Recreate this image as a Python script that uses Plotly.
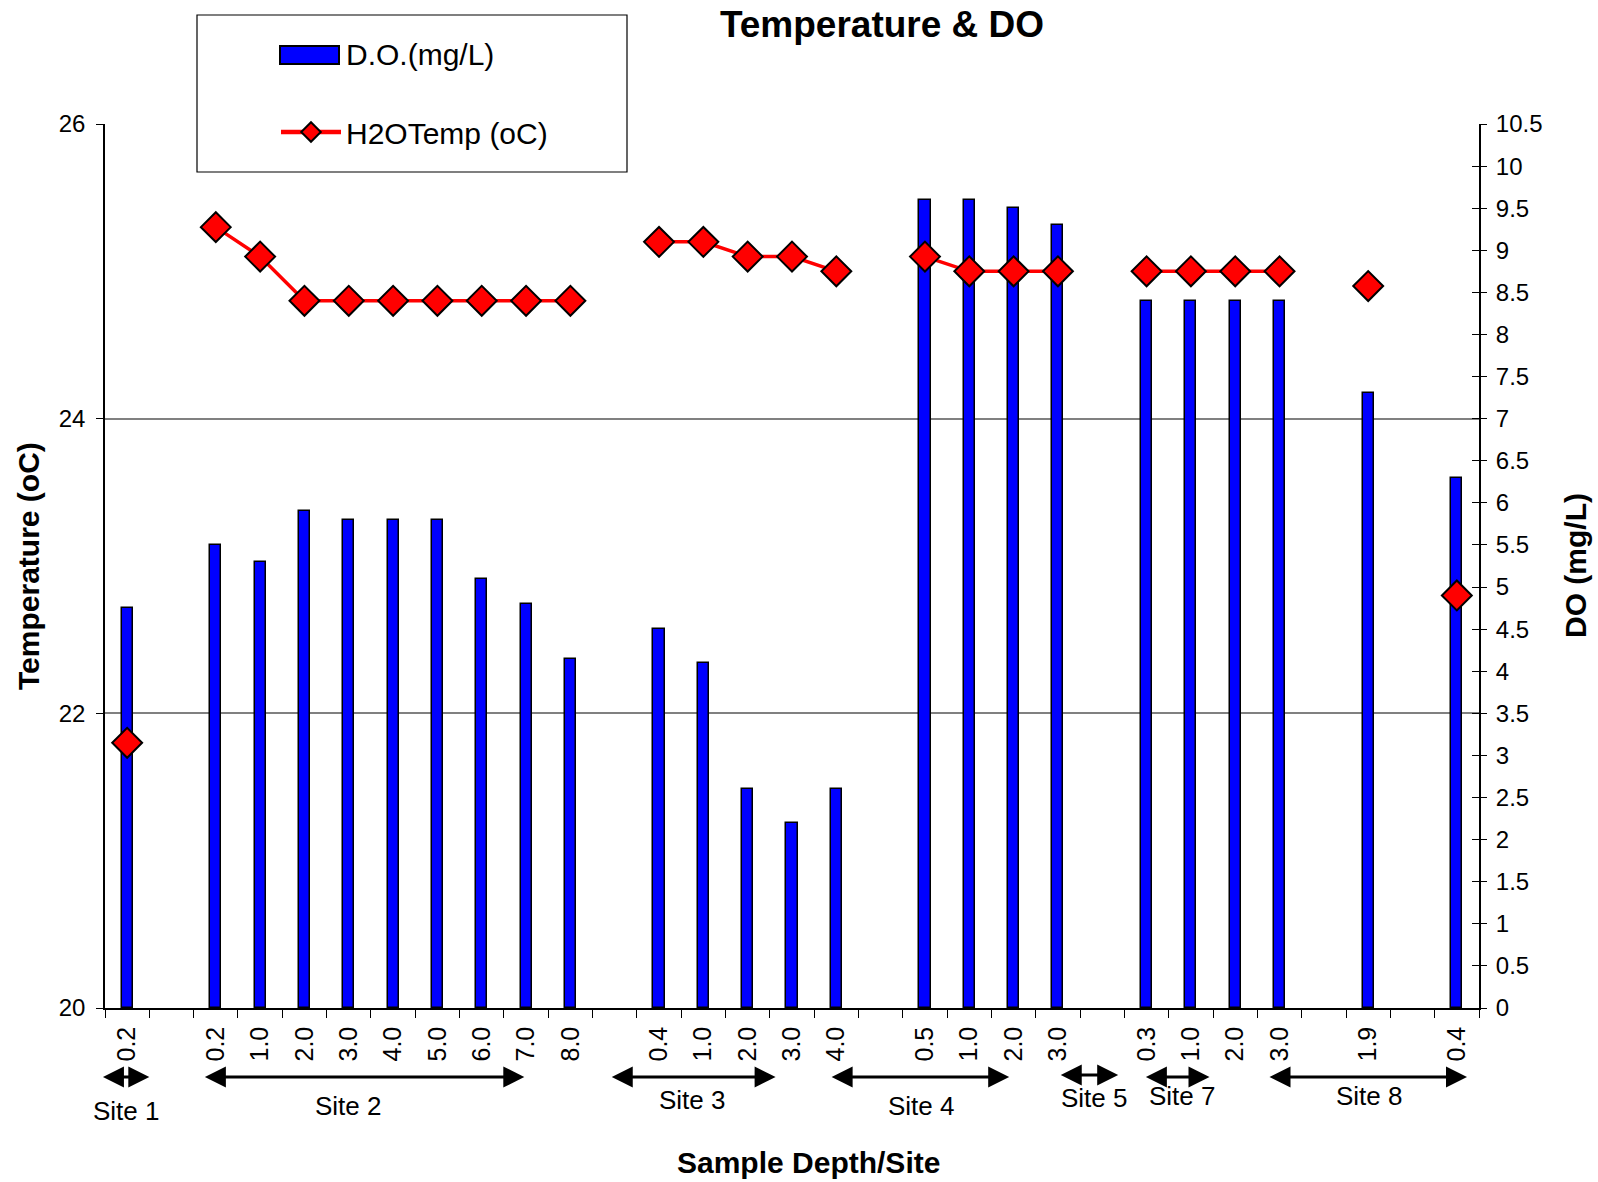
import plotly.graph_objects as go

# ---------------- data ----------------
depths = ["0.2", "", "0.2", "1.0", "2.0", "3.0", "4.0", "5.0", "6.0", "7.0", "8.0", "",
          "0.4", "1.0", "2.0", "3.0", "4.0", "", "0.5", "1.0", "2.0", "3.0", "",
          "0.3", "1.0", "2.0", "3.0", "", "1.9", "", "0.4"]
do_mgL = [4.75, None, 5.5, 5.3, 5.9, 5.8, 5.8, 5.8, 5.1, 4.8, 4.15, None,
          4.5, 4.1, 2.6, 2.2, 2.6, None, 9.6, 9.6, 9.5, 9.3, None,
          8.4, 8.4, 8.4, 8.4, None, 7.3, None, 6.3]
temp_c = [21.8, None, 25.3, 25.1, 24.8, 24.8, 24.8, 24.8, 24.8, 24.8, 24.8, None,
          25.2, 25.2, 25.1, 25.1, 25.0, None, 25.1, 25.0, 25.0, 25.0, None,
          25.0, 25.0, 25.0, 25.0, None, 24.9, None, 22.8]
positions = list(range(len(depths)))

temp_ticks = [20, 22, 24, 26]
do_tickvals = [i * 0.5 for i in range(22)]
do_ticktext = ["0", "0.5", "1", "1.5", "2", "2.5", "3", "3.5", "4", "4.5", "5", "5.5",
               "6", "6.5", "7", "7.5", "8", "8.5", "9", "9.5", "10", "10.5"]

# site groups: name, arrow start, arrow end (in category units)
site_names = ["Site 1", "Site 2", "Site 3", "Site 4", "Site 5", "Site 7", "Site 8"]
site_start = [-0.58, 1.72, 10.90, 15.86, 21.03, 22.95, 25.74]
site_end = [0.50, 8.96, 14.63, 19.90, 22.36, 24.42, 30.23]
site_label_x = [-0.02, 5.0, 12.75, 17.93, 21.83, 23.8, 28.03]

# ---------------- layout geometry ----------------
W, H = 1598, 1182
L, R, T, B = 105, 1479, 124, 1008
FONT = "Liberation Sans, Arial, sans-serif"


def py2paper(py):
    return (B - py) / (B - T)


def px2paper(px):
    return (px - L) / (R - L)


fig = go.Figure()

fig.add_trace(go.Bar(
    x=positions, y=do_mgL, name="D.O.(mg/L)", width=0.25,
    marker=dict(color="#0000FF", line=dict(color="black", width=1.5)),
    yaxis="y", showlegend=False,
))
fig.add_trace(go.Scatter(
    x=positions, y=temp_c, name="H2OTemp (oC)", mode="lines+markers",
    connectgaps=False,
    line=dict(color="#FF0000", width=3.5),
    marker=dict(symbol="diamond", size=23, color="#FF0000",
                line=dict(color="black", width=2)),
    yaxis="y2", showlegend=False,
))
# legend entries (symbol for D.O. drawn as a framed rectangle below)
fig.add_trace(go.Scatter(x=[None], y=[None], name="D.O.(mg/L)", mode="lines",
                         line=dict(color="rgba(0,0,0,0)", width=1),
                         yaxis="y2", legendgroup="a", hoverinfo="skip"))
fig.add_trace(go.Scatter(x=[None], y=[None], name="H2OTemp (oC)", mode="lines+markers",
                         line=dict(color="#FF0000", width=4.5),
                         marker=dict(symbol="diamond", size=15, color="#FF0000",
                                     line=dict(color="black", width=2)),
                         yaxis="y2", legendgroup="b", hoverinfo="skip"))
# helper trace so that the outer tick axis is drawn
fig.add_trace(go.Scatter(x=[None], y=[None], yaxis="y3", showlegend=False,
                         hoverinfo="skip"))

fig.update_layout(
    width=W, height=H,
    margin=dict(l=L, r=W - R, t=T, b=H - B),
    paper_bgcolor="white", plot_bgcolor="white",
    font=dict(family=FONT, size=24, color="black"),
    showlegend=True,
    bargap=0,
    title=dict(text="Temperature & DO", x=px2paper(882), xref="paper",
               xanchor="center", y=1 - 24 / H, yref="container", yanchor="middle",
               font=dict(family=FONT, size=37, color="black", weight="bold")),
    xaxis=dict(range=[-0.5, len(depths) - 0.5], tickmode="array",
               tickvals=positions, ticktext=depths, tickangle=-90,
               ticks="outside", ticklen=7, tickcolor="rgba(0,0,0,0)",
               showline=True, linecolor="black", linewidth=1.5,
               showgrid=False, zeroline=False,
               tickfont=dict(size=25),
               minor=dict(ticks="outside", ticklen=8, tickcolor="black",
                          tickwidth=1.2, tick0=-0.5, dtick=1, showgrid=False)),
    yaxis=dict(range=[0, 10.5], side="right", showline=True, linecolor="black",
               linewidth=1.5, ticks="inside", ticklen=7, tickcolor="black",
               tickmode="array", tickvals=do_tickvals, showticklabels=False,
               showgrid=False, zeroline=False),
    yaxis3=dict(range=[0, 10.5], side="right", overlaying="y", anchor="x",
                ticks="outside", ticklen=7, tickcolor="black",
                tickmode="array", tickvals=do_tickvals, ticktext=do_ticktext,
                ticklabelstandoff=4,
                showgrid=False, zeroline=False, showline=False,
                tickfont=dict(size=24)),
    yaxis2=dict(range=[20, 26], side="left", overlaying="y", anchor="x",
                tickmode="array", tickvals=temp_ticks,
                ticks="outside", ticklen=7, tickcolor="black",
                ticklabelstandoff=6,
                showline=True, linecolor="black", linewidth=1.5,
                showgrid=True, gridcolor="#808080", gridwidth=1.5,
                zeroline=False, tickfont=dict(size=24)),
    legend=dict(x=px2paper(276), y=py2paper(27), xanchor="left", yanchor="top",
                bgcolor="rgba(0,0,0,0)", borderwidth=0,
                font=dict(family=FONT, size=30, color="black"),
                traceorder="grouped", tracegroupgap=37, itemwidth=60),
)

# legend frame
fig.add_shape(type="rect", xref="paper", yref="paper",
              x0=px2paper(197), x1=px2paper(627), y0=py2paper(172), y1=py2paper(15),
              line=dict(color="black", width=1.2), fillcolor="white", layer="above")
# legend symbol for the bar series
fig.add_shape(type="rect", xref="paper", yref="paper",
              x0=px2paper(280), x1=px2paper(339), y0=py2paper(64), y1=py2paper(46),
              line=dict(color="black", width=2), fillcolor="#0000FF", layer="above")

# axis titles
fig.add_annotation(text="<b>Temperature (oC)</b>", xref="paper", yref="paper",
                   x=px2paper(28), y=py2paper(566), showarrow=False, textangle=-90,
                   font=dict(size=30), xanchor="center", yanchor="middle")
fig.add_annotation(text="<b>DO (mg/L)</b>", xref="paper", yref="paper",
                   x=px2paper(1575), y=py2paper(566), showarrow=False, textangle=-90,
                   font=dict(size=30), xanchor="center", yanchor="middle")
fig.add_annotation(text="<b>Sample Depth/Site</b>", xref="paper", yref="paper",
                   x=px2paper(808), y=py2paper(1162), showarrow=False,
                   font=dict(size=30), xanchor="center", yanchor="middle")

# site arrows and labels
arrow_y = [1077, 1077, 1077, 1077, 1075, 1077, 1077]
label_y = [1111, 1106, 1100, 1106, 1098, 1096, 1096]
for name, s, e, lx, ay, ly in zip(site_names, site_start, site_end, site_label_x,
                                  arrow_y, label_y):
    fig.add_annotation(x=e, y=py2paper(ay), xref="x", yref="paper",
                       ax=s, ay=0, axref="x", ayref="pixel",
                       text="", showarrow=True, arrowside="end+start",
                       arrowhead=2, startarrowhead=2, arrowsize=1.4,
                       startarrowsize=1.4, arrowwidth=3, arrowcolor="black",
                       standoff=0, startstandoff=0)
    fig.add_annotation(x=lx, y=py2paper(ly), xref="x", yref="paper", text=name,
                       showarrow=False, font=dict(size=26), xanchor="center",
                       yanchor="middle")

fig.write_html("out.html", config={"displayModeBar": False},
               post_script="document.body.style.margin='0';"
                           "document.body.style.overflow='hidden';")
